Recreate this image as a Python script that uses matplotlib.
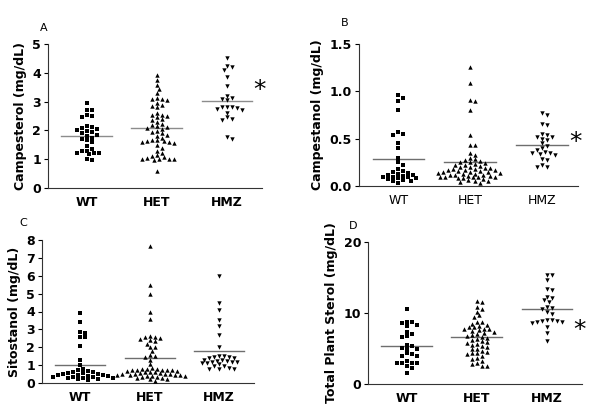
import numpy as np
import matplotlib
matplotlib.use("Agg")
import matplotlib.pyplot as plt

groups = ["WT", "HET", "HMZ"]
markers = ["s", "^", "v"]

# Panel A - Campesterol (mg/dL)
campesterol_wt = [2.95, 2.72, 2.70, 2.55, 2.50, 2.48, 2.15, 2.12, 2.10, 2.05, 2.02, 1.98,
                  1.95, 1.90, 1.85, 1.80, 1.75, 1.70, 1.65, 1.60, 1.45, 1.35, 1.30, 1.28,
                  1.22, 1.20, 1.20, 1.18, 1.00, 0.98]
campesterol_het = [3.93, 3.75, 3.58, 3.45, 3.30, 3.12, 3.10, 3.08, 3.05, 2.95, 2.88, 2.85,
                   2.80, 2.60, 2.55, 2.52, 2.50, 2.45, 2.40, 2.35, 2.30, 2.22, 2.20, 2.15,
                   2.12, 2.10, 2.05, 1.98, 1.95, 1.90, 1.85, 1.80, 1.75, 1.65, 1.65, 1.62,
                   1.62, 1.60, 1.60, 1.55, 1.50, 1.40, 1.30, 1.20, 1.15, 1.10, 1.08, 1.05,
                   1.02, 1.00, 1.00, 1.00, 0.98, 0.60]
campesterol_hmz = [4.50, 4.22, 4.20, 4.10, 3.85, 3.55, 3.20, 3.12, 3.10, 3.05, 2.82, 2.80,
                   2.80, 2.78, 2.75, 2.70, 2.60, 2.45, 2.40, 2.35, 1.78, 1.70]

# Panel B - Campestanol (mg/dL)
campestanol_wt = [0.96, 0.93, 0.90, 0.80, 0.57, 0.55, 0.54, 0.45, 0.40, 0.30, 0.25, 0.22,
                  0.18, 0.16, 0.15, 0.14, 0.13, 0.12, 0.12, 0.11, 0.10, 0.10, 0.09, 0.08,
                  0.08, 0.07, 0.06, 0.05, 0.05, 0.03]
campestanol_het = [1.26, 1.09, 0.91, 0.90, 0.80, 0.54, 0.43, 0.43, 0.35, 0.33, 0.30, 0.28,
                   0.27, 0.26, 0.25, 0.25, 0.24, 0.23, 0.22, 0.22, 0.21, 0.20, 0.20, 0.19,
                   0.19, 0.18, 0.18, 0.17, 0.17, 0.17, 0.16, 0.16, 0.15, 0.15, 0.15, 0.14,
                   0.14, 0.13, 0.13, 0.12, 0.12, 0.12, 0.11, 0.11, 0.10, 0.10, 0.10, 0.09,
                   0.09, 0.08, 0.08, 0.07, 0.06, 0.05, 0.05, 0.04, 0.03]
campestanol_hmz = [0.77, 0.75, 0.66, 0.64, 0.55, 0.54, 0.52, 0.52, 0.50, 0.49, 0.45, 0.42,
                   0.40, 0.38, 0.36, 0.35, 0.35, 0.34, 0.33, 0.28, 0.27, 0.22, 0.20, 0.20]

# Panel C - Sitostanol (mg/dL)
sitostanol_wt = [3.90, 3.40, 2.85, 2.80, 2.60, 2.55, 2.05, 1.30, 1.00, 0.80, 0.70, 0.65,
                 0.60, 0.60, 0.55, 0.55, 0.50, 0.50, 0.45, 0.45, 0.45, 0.40, 0.40, 0.35,
                 0.35, 0.35, 0.30, 0.30, 0.30, 0.25, 0.20, 0.15]
sitostanol_het = [7.65, 5.50, 5.00, 3.95, 3.60, 2.65, 2.60, 2.55, 2.50, 2.45, 2.40, 2.35,
                  2.20, 2.00, 2.00, 1.80, 1.55, 1.50, 1.45, 1.30, 1.05, 0.85, 0.80, 0.80,
                  0.80, 0.75, 0.75, 0.70, 0.70, 0.70, 0.65, 0.65, 0.60, 0.60, 0.60, 0.55,
                  0.55, 0.50, 0.50, 0.50, 0.50, 0.45, 0.45, 0.45, 0.45, 0.40, 0.40, 0.40,
                  0.35, 0.35, 0.30, 0.30, 0.25, 0.20, 0.10]
sitostanol_hmz = [6.00, 4.45, 4.10, 3.55, 3.20, 2.70, 2.00, 1.50, 1.50, 1.45, 1.45, 1.40,
                  1.40, 1.30, 1.30, 1.25, 1.25, 1.20, 1.15, 1.15, 1.10, 1.10, 1.05, 0.95,
                  0.95, 0.85, 0.80, 0.80, 0.80]

# Panel D - Total plant sterol (mg/dL)
total_wt = [10.6, 8.8, 8.7, 8.6, 8.3, 8.2, 7.3, 7.1, 6.7, 6.6, 5.5, 5.4, 5.1, 5.0, 4.9,
            4.3, 4.2, 4.0, 3.9, 3.2, 3.0, 2.9, 2.9, 2.9, 2.5, 2.2, 1.5]
total_het = [11.7, 11.5, 10.8, 10.6, 10.2, 9.7, 9.5, 8.7, 8.7, 8.5, 8.3, 8.2, 8.0, 8.0,
             7.8, 7.7, 7.7, 7.6, 7.5, 7.3, 7.2, 7.0, 6.9, 6.8, 6.6, 6.5, 6.3, 6.2, 6.0,
             5.9, 5.8, 5.7, 5.5, 5.3, 5.2, 5.0, 4.9, 4.7, 4.5, 4.4, 4.3, 4.2, 4.0, 3.6,
             3.5, 3.3, 3.0, 2.8, 2.6, 2.6]
total_hmz = [15.4, 15.3, 14.6, 13.4, 13.3, 12.3, 12.1, 11.8, 11.5, 10.8, 10.7, 10.6, 10.1,
             9.8, 9.0, 9.0, 8.9, 8.9, 8.8, 8.7, 8.6, 8.0, 7.2, 6.0]


def swarm(vals, ppu_x, ppu_y, rx=5.0, ry=3.8):
    # simple beeswarm in pixel space: each point takes the nearest free x slot
    ys = np.asarray(vals) * ppu_y
    order = np.argsort(-ys)
    placed = []
    offs = np.zeros(len(ys))
    for i in order:
        k = 0
        while True:
            step = (k + 1) // 2 * (1 if k % 2 else -1) * rx * 0.5
            ok = all(((step - px) / rx) ** 2 + ((ys[i] - py) / ry) ** 2 >= 1 for px, py in placed)
            if ok:
                break
            k += 1
        offs[i] = step
        placed.append((step, ys[i]))
    return offs / ppu_x


fig = plt.figure(figsize=(6, 4.12), dpi=100)

panels = [
    dict(letter="A", rect=(48, 44, 262, 188), data=[campesterol_wt, campesterol_het, campesterol_hmz],
         ylim=5, yticks=[0, 1, 2, 3, 4, 5], fmt="{:g}", ylabel="Campesterol (mg/dL)",
         xbold=True, line="#8c8c8c", star=3.4, letterpos=(44, 28)),
    dict(letter="B", rect=(359, 44, 578, 186), data=[campestanol_wt, campestanol_het, campestanol_hmz],
         ylim=1.5, yticks=[0, 0.5, 1.0, 1.5], fmt="{:.1f}", ylabel="Campestanol (mg/dL)",
         xbold=False, line="#6e6e6e", star=0.47, letterpos=(345, 23)),
    dict(letter="C", rect=(42, 240, 254, 383), data=[sitostanol_wt, sitostanol_het, sitostanol_hmz],
         ylim=8, yticks=list(range(9)), fmt="{:g}", ylabel="Sitostanol (mg/dL)",
         xbold=True, line="#6e6e6e", star=None, letterpos=(23, 223)),
    dict(letter="D", rect=(368, 242, 582, 384), data=[total_wt, total_het, total_hmz],
         ylim=20, yticks=[0, 10, 20], fmt="{:g}", ylabel="Total Plant Sterol (mg/dL)",
         xbold=True, line="#6e6e6e", star=7.6, letterpos=(353, 226)),
]

W, H = 600, 412
XLIM = (-0.55, 2.5)
for p in panels:
    x0, y0, x1, y1 = p["rect"]
    ax = fig.add_axes([x0 / W, 1 - y1 / H, (x1 - x0) / W, (y1 - y0) / H])
    ymax = p["ylim"]
    ppu_x = (x1 - x0) / (XLIM[1] - XLIM[0])
    ppu_y = (y1 - y0) / ymax
    for i, (vals, m) in enumerate(zip(p["data"], markers)):
        offs = swarm(vals, ppu_x, ppu_y)
        ax.scatter(i + offs, vals, marker=m, s=10, color="black", linewidths=0, zorder=3)
        mean = np.mean(vals)
        ax.plot([i - 0.36, i + 0.36], [mean, mean], color=p["line"], lw=1, zorder=2)
    ax.set_xlim(*XLIM)
    ax.set_ylim(0, ymax)
    ax.set_yticks(p["yticks"])
    ax.set_yticklabels([p["fmt"].format(t) for t in p["yticks"]], fontsize=9, fontweight="bold")
    ax.set_xticks(range(3))
    ax.set_xticklabels(groups, fontsize=9, fontweight="bold" if p["xbold"] else "normal")
    ax.tick_params(axis="x", length=0, pad=6)
    ax.tick_params(axis="y", length=3, width=0.8, pad=2)
    for s in ["top", "right"]:
        ax.spines[s].set_visible(False)
    for s in ["left", "bottom"]:
        ax.spines[s].set_linewidth(0.8)
        ax.spines[s].set_color("#333333")
    ax.set_ylabel(p["ylabel"], fontsize=9, fontweight="bold", labelpad=4)
    if p["star"] is not None:
        ax.text(2.38, p["star"], "*", fontsize=18, ha="left", va="center", clip_on=False)
    lx, ly = p["letterpos"]
    fig.text(lx / W, 1 - ly / H, p["letter"], fontsize=8, ha="center", va="center")

fig.savefig("out.png", dpi=100)
